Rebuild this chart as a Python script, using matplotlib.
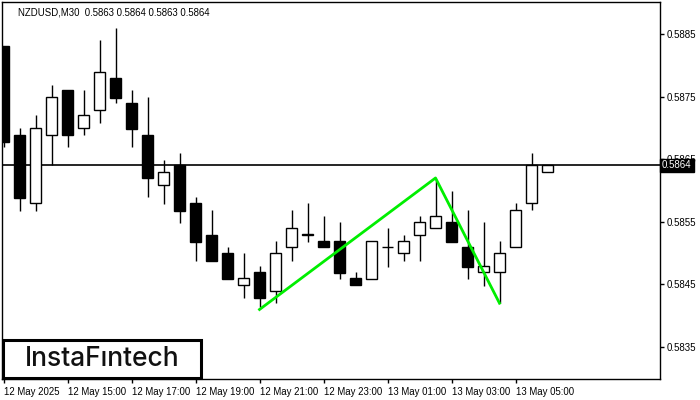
import numpy as np
import matplotlib
matplotlib.use('Agg')
import matplotlib.pyplot as plt
from matplotlib.patches import Rectangle

plt.rcParams['font.family'] = ['Liberation Sans', 'DejaVu Sans']

# NZDUSD M30 candles, 12 May 13:00 .. 13 May 06:00
opens  = [0.5883, 0.58689, 0.5858, 0.58688, 0.5876, 0.5870, 0.58729, 0.5878, 0.5874, 0.58689,
          0.58609, 0.5864, 0.5858, 0.58529, 0.5850, 0.58449, 0.5847, 0.5844, 0.5851, 0.58529,
          0.5852, 0.5852, 0.5846, 0.58459, 0.5851, 0.5850, 0.58529, 0.5854, 0.5855, 0.5851,
          0.5847, 0.5847, 0.5851, 0.5858, 0.5863]
highs  = [0.5883, 0.5870, 0.5872, 0.58769, 0.5876, 0.5876, 0.5884, 0.5886, 0.5876, 0.5875,
          0.58649, 0.5866, 0.5859, 0.58569, 0.5851, 0.5850, 0.5848, 0.5852, 0.58569, 0.5858,
          0.5856, 0.5855, 0.5847, 0.5852, 0.5854, 0.58529, 0.5856, 0.58619, 0.5860, 0.58569,
          0.5855, 0.5852, 0.5858, 0.5866, 0.5864]
lows   = [0.5867, 0.58568, 0.58568, 0.5864, 0.5867, 0.58688, 0.58708, 0.58739, 0.5867, 0.5859,
          0.58578, 0.58548, 0.58488, 0.58488, 0.58459, 0.58428, 0.58414, 0.5842, 0.58488, 0.58518,
          0.5851, 0.58459, 0.58449, 0.58459, 0.58478, 0.58488, 0.58488, 0.5854, 0.58518, 0.58459,
          0.58448, 0.5842, 0.5851, 0.58569, 0.5863]
closes = [0.58678, 0.58588, 0.5870, 0.5875, 0.58688, 0.5872, 0.5879, 0.58748, 0.58699, 0.5862,
          0.5863, 0.58568, 0.58518, 0.58488, 0.58459, 0.5846, 0.58428, 0.5850, 0.5854, 0.5853,
          0.5851, 0.58468, 0.58449, 0.5852, 0.5851, 0.5852, 0.5855, 0.5856, 0.58518, 0.58478,
          0.5848, 0.5850, 0.58569, 0.5864, 0.5864]

# pattern line (candle index, price)
pat_idx = [16, 27, 31]
pat_px  = [0.5841, 0.5862, 0.5842]

bid = 0.5864
title = "NZDUSD,M30  0.5863 0.5864 0.5863 0.5864"

xtick_idx    = [0, 4, 8, 12, 16, 20, 24, 28, 32]
xtick_labels = ['12 May 2025', '12 May 15:00', '12 May 17:00', '12 May 19:00', '12 May 21:00',
                '12 May 23:00', '13 May 01:00', '13 May 03:00', '13 May 05:00']
yticks = [0.5835, 0.5845, 0.5855, 0.5865, 0.5875, 0.5885]

fig = plt.figure(figsize=(7, 4), dpi=100)
ax = fig.add_axes([2/700, 21/400, 658/700, 377/400])

x = np.arange(len(opens))
w = 0.63
for i in x:
    o, h, l, c = opens[i], highs[i], lows[i], closes[i]
    top, bot = max(o, c), min(o, c)
    ax.vlines(i, top, h, color='black', lw=1)
    ax.vlines(i, l, bot, color='black', lw=1)
    fc = 'black' if c < o else 'white'
    ax.add_patch(Rectangle((i - w/2, bot), w, max(top - bot, 1e-6),
                           facecolor=fc, edgecolor='black', lw=1, zorder=2))

ax.axhline(bid, color='black', lw=1.2, zorder=1)
ax.plot(pat_idx, pat_px, color='#00ee00', lw=2, zorder=3)

ax.set_xlim(-0.094, 41.03)
ax.set_ylim(0.58299, 0.58901)

ax.yaxis.tick_right()
ax.set_yticks(yticks)
ax.set_yticklabels([f'{v:.4f}' for v in yticks], fontsize=7)
ax.set_xticks(xtick_idx)
ax.set_xticklabels(xtick_labels, fontsize=6.9, ha='left')
ax.tick_params(axis='both', direction='out', length=3, width=1, pad=1.5)
ax.tick_params(axis='x', pad=3)
for s in ax.spines.values():
    s.set_linewidth(1)

ax.text(0.025, 0.985, title, transform=ax.transAxes, fontsize=6.9, va='top', ha='left')

# price label on the right
ax.text(1.003, (bid - 0.58299) / (0.58901 - 0.58299), f'{bid:.4f}', transform=ax.transAxes,
        fontsize=7, color='white', va='center', ha='left', zorder=10,
        bbox=dict(boxstyle='square,pad=0.2', fc='black', ec='black'))

# logo
fig.patches.append(Rectangle((3/700, 22/400), 198/700, 38/400, transform=fig.transFigure,
                             facecolor='white', edgecolor='black', lw=2.2, zorder=5))
fig.text(102/700, 41/400, 'InstaF\u0131ntech', fontsize=19, ha='center', va='center',
         color='#111111', zorder=6, family=['Inter', 'DejaVu Sans'], fontweight='medium')

fig.savefig('out.png', dpi=100)
